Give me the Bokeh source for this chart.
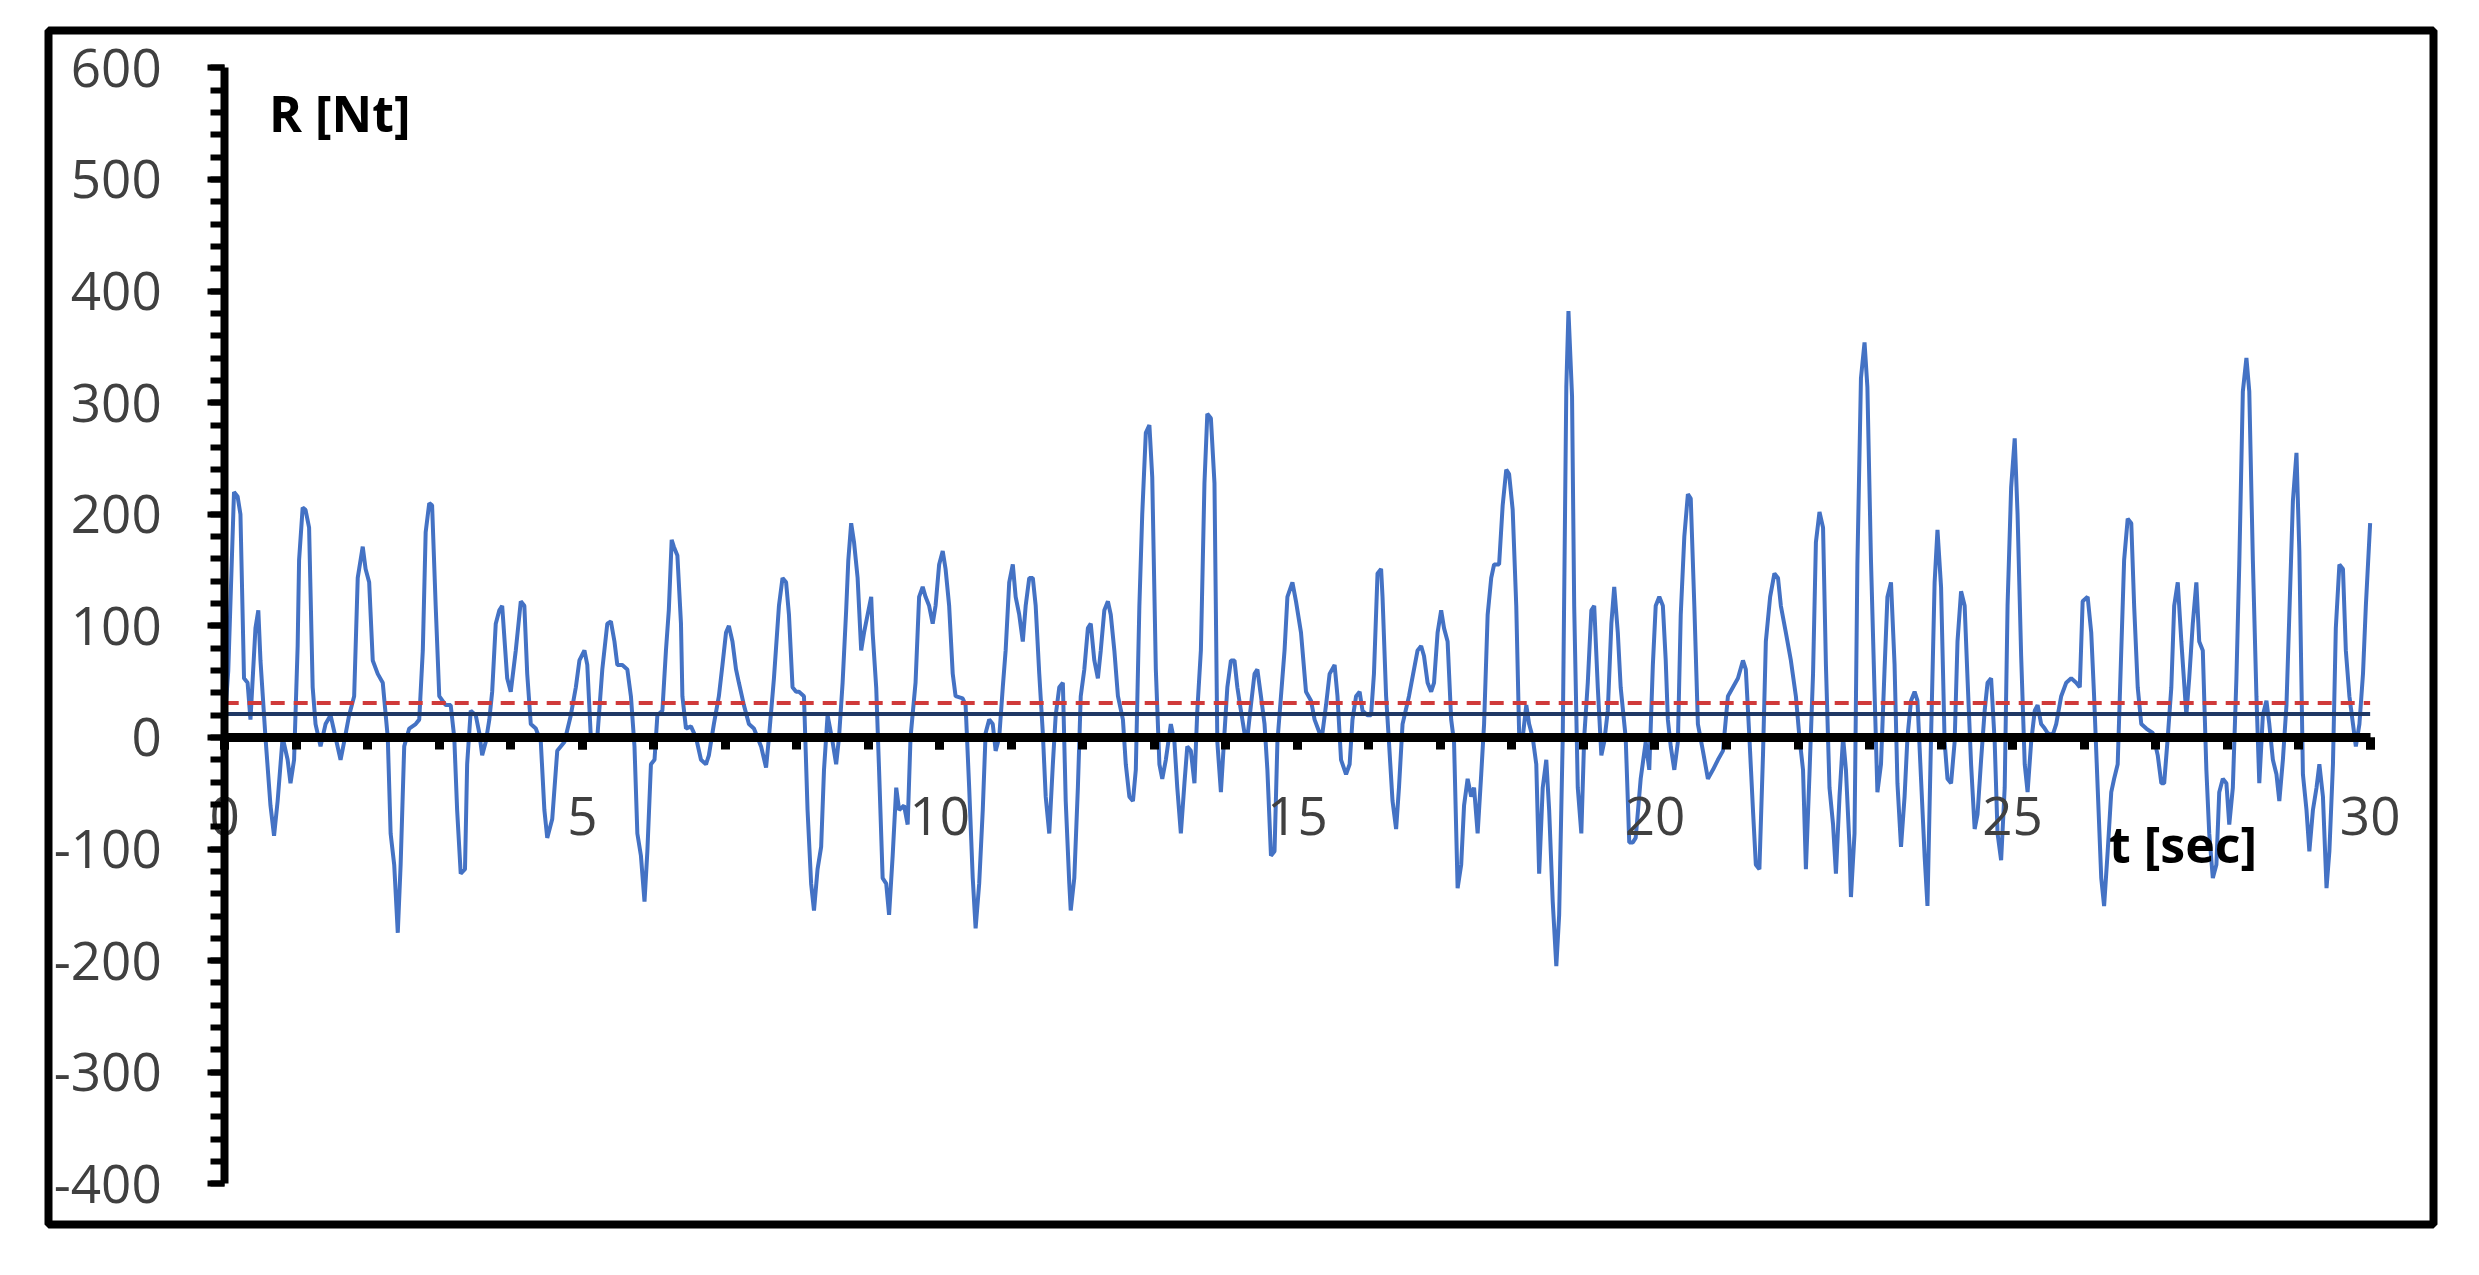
from bokeh.plotting import figure
from bokeh.models import Range1d, SingleIntervalTicker, Label, ColumnDataSource, PrintfTickFormatter
from bokeh.embed import file_html
from bokeh.resources import INLINE

# ---- data ----
t_sec = [
    0.00, 0.05, 0.13, 0.18, 0.22, 0.27, 0.32, 0.36, 0.43, 0.47, 0.50, 0.57, 0.64, 0.69, 0.74, 0.81, 0.88, 0.92, 0.97,
    1.02, 1.04, 1.09, 1.13, 1.18, 1.23, 1.27, 1.34, 1.41, 1.48, 1.55, 1.62, 1.67, 1.74, 1.81, 1.86, 1.93, 1.97,
    2.02, 2.07, 2.14, 2.21, 2.28, 2.32, 2.37, 2.42, 2.46, 2.51, 2.58, 2.67, 2.72, 2.77, 2.81, 2.86, 2.90, 2.95,
    3.00, 3.09, 3.16, 3.21, 3.25, 3.30, 3.36, 3.39, 3.44, 3.51, 3.56, 3.60, 3.65, 3.70, 3.74, 3.79, 3.84, 3.88, 3.95,
    4.00, 4.07, 4.14, 4.19, 4.23, 4.28, 4.35, 4.42, 4.47, 4.51, 4.58, 4.65, 4.75, 4.84, 4.91,
    4.96, 5.03, 5.07, 5.12, 5.21, 5.28, 5.35, 5.40, 5.45, 5.49, 5.56, 5.63, 5.68, 5.73, 5.77, 5.82, 5.87, 5.91, 5.96,
    6.01, 6.05, 6.12, 6.17, 6.21, 6.25, 6.28, 6.33, 6.38, 6.40, 6.45, 6.52, 6.59, 6.66, 6.73, 6.77, 6.84, 6.91, 6.96,
    7.01, 7.05, 7.10, 7.15, 7.19, 7.26, 7.33, 7.40, 7.50, 7.57, 7.61, 7.68, 7.75, 7.80, 7.85, 7.89, 7.94, 7.99,
    8.03, 8.10, 8.15, 8.20, 8.24, 8.29, 8.34, 8.38, 8.43, 8.50, 8.55, 8.59, 8.64, 8.69, 8.72, 8.76, 8.80, 8.85, 8.90, 8.94, 8.99,
    9.04, 9.06, 9.11, 9.15, 9.20, 9.25, 9.29, 9.34, 9.39, 9.43, 9.50, 9.55, 9.59, 9.66, 9.71, 9.76, 9.80,
    9.85, 9.90, 9.94, 9.99, 10.04, 10.08, 10.13, 10.18, 10.22, 10.32, 10.36, 10.41, 10.46, 10.50, 10.55, 10.60, 10.64,
    10.69, 10.74, 10.78, 10.83, 10.88, 10.92, 10.97, 11.02, 11.06, 11.11, 11.16, 11.20, 11.25, 11.30, 11.34, 11.39,
    11.44, 11.48, 11.53, 11.58, 11.62, 11.67, 11.72, 11.76, 11.81, 11.83, 11.88, 11.93, 11.97, 12.02, 12.07, 12.11,
    12.16, 12.21, 12.25, 12.30, 12.35, 12.39, 12.44, 12.49, 12.56, 12.60, 12.65, 12.70, 12.74, 12.79, 12.83, 12.88,
    12.93, 12.97, 13.02, 13.07, 13.11, 13.16, 13.23, 13.28, 13.32, 13.37, 13.42, 13.46, 13.51, 13.56, 13.60, 13.65,
    13.70, 13.74, 13.79, 13.84, 13.88, 13.93, 13.98, 14.02, 14.07, 14.12, 14.16, 14.21, 14.26, 14.30, 14.35, 14.40,
    14.44, 14.49, 14.54, 14.58, 14.63, 14.68, 14.72, 14.77, 14.82, 14.86, 14.93, 14.98, 15.05,
    15.12, 15.19, 15.24, 15.31, 15.35, 15.40, 15.45, 15.52, 15.56, 15.61, 15.68, 15.73, 15.77, 15.82, 15.87, 15.91,
    15.98, 16.03, 16.07, 16.12, 16.17, 16.19, 16.24, 16.28, 16.33, 16.38, 16.42, 16.47, 16.56, 16.63, 16.68, 16.73,
    16.77, 16.82, 16.87, 16.91, 16.96, 17.01, 17.05, 17.10, 17.15, 17.19, 17.24, 17.29, 17.33, 17.38, 17.43, 17.47,
    17.52, 17.57, 17.61, 17.66, 17.71, 17.75, 17.82, 17.87, 17.92, 17.96, 18.01, 18.06, 18.10, 18.15, 18.20, 18.24,
    18.29, 18.34, 18.38, 18.43, 18.48, 18.52, 18.57, 18.62, 18.66, 18.71, 18.76, 18.79, 18.84, 18.87, 18.92, 18.97,
    19.01, 19.06, 19.11, 19.15, 19.20, 19.25, 19.29, 19.34, 19.39, 19.43, 19.48, 19.52, 19.59, 19.64, 19.69, 19.73, 19.80,
    19.87, 19.92, 19.97, 20.01, 20.06, 20.11, 20.15, 20.18, 20.22, 20.27, 20.32, 20.36, 20.41, 20.46, 20.50, 20.55,
    20.60, 20.67, 20.74, 20.81, 20.88, 20.95, 21.02, 21.09, 21.16, 21.23, 21.27, 21.32, 21.37, 21.41, 21.46, 21.51,
    21.55, 21.61, 21.67, 21.72, 21.76, 21.83, 21.90, 21.97, 22.02, 22.07, 22.11, 22.16, 22.21, 22.25, 22.30, 22.35,
    22.39, 22.44, 22.49, 22.53, 22.58, 22.63, 22.67, 22.72, 22.74, 22.79, 22.83, 22.88, 22.93, 22.97, 23.02, 23.07,
    23.11, 23.16, 23.21, 23.25, 23.30, 23.35, 23.39, 23.44, 23.49, 23.53, 23.58, 23.63, 23.67, 23.72, 23.77, 23.81,
    23.86, 23.91, 23.95, 24.00, 24.05, 24.09, 24.14, 24.19, 24.23, 24.28, 24.33, 24.37, 24.42, 24.47, 24.51, 24.56,
    24.61, 24.65, 24.70, 24.75, 24.79, 24.84, 24.89, 24.93, 24.98, 25.03,
    25.07, 25.12, 25.17, 25.21, 25.26, 25.31, 25.35, 25.40, 25.45, 25.49, 25.56, 25.61, 25.68, 25.75, 25.82, 25.89,
    25.94, 25.98, 26.05, 26.10, 26.14, 26.19, 26.24, 26.28, 26.33, 26.38, 26.42, 26.47, 26.52, 26.56, 26.61, 26.66,
    26.70, 26.75, 26.80, 26.87, 26.96, 27.03, 27.08, 27.12, 27.17, 27.22, 27.26, 27.31, 27.36, 27.43, 27.47, 27.52,
    27.57, 27.61, 27.66, 27.71, 27.75, 27.80, 27.85, 27.89, 27.94, 27.99, 28.03, 28.08, 28.13, 28.17, 28.22, 28.27,
    28.31, 28.36, 28.41, 28.45, 28.50, 28.55, 28.59, 28.64, 28.69, 28.73, 28.78, 28.83, 28.87, 28.92, 28.97, 29.01,
    29.06, 29.11, 29.15, 29.20, 29.25, 29.29, 29.34, 29.39, 29.43, 29.48, 29.52, 29.57, 29.62, 29.66, 29.71, 29.76,
    29.80, 29.85, 29.90, 29.94, 30.00,
]
r_nt = [
    15, 60, 220, 216, 200, 53, 49, 16, 98, 114, 69, 0, -61, -88, -57, 0, -20, -41, -20,
    82, 159, 206, 204, 188, 45, 12, -8, 12, 20, 0, -20, -4, 20, 37, 143, 171, 151,
    139, 69, 57, 49, 0, -86, -114, -175, -114, -8, 8, 12, 16, 78, 184, 210, 208, 118,
    37, 29, 29, 0, -65, -122, -118, -24, 24, 20, 4, -16, -4, 16, 41, 102, 114, 118, 53,
    41, 78, 122, 118, 57, 12, 8, -4, -65, -90, -73, -12, -4, 20, 45,
    69, 78, 65, 0, 0, 61, 102, 104, 86, 65, 65, 61, 37, -8, -86, -106, -147, -102, -24,
    -20, 20, 24, 78, 114, 177, 171, 163, 102, 37, 8, 10, 0, -20, -24, -16, 12, 37, 65,
    94, 100, 86, 61, 49, 29, 12, 8, -8, -27, 0, 53, 118, 143, 139, 110, 45, 41,
    41, 37, -65, -131, -155, -118, -98, -29, 20, -4, -24, 0, 49, 114, 159, 192, 175, 143, 78, 94, 110,
    126, 94, 45, -29, -126, -131, -159, -106, -45, -65, -61, -78, 0, 49, 126, 135, 126,
    118, 102, 118, 155, 167, 151, 118, 57, 37, 35, 29, -45, -126, -171, -131, -65, 4,
    16, 12, -12, 0, 45, 78, 139, 155, 126, 110, 86, 118, 143, 143, 118, 57,
    4, -53, -86, -24, 20, 45, 49, -57, -131, -155, -126, -45, 37, 61, 98, 102,
    69, 53, 78, 114, 122, 110, 78, 37, 16, -24, -53, -57, -29, 118, 200, 273,
    280, 233, 61, -24, -37, -20, 12, -4, -45, -86, -41, -8, -12, -41, 24, 78,
    228, 290, 286, 228, -4, -49, 4, 45, 69, 69, 45, 24, 4, 0, 29, 57,
    61, 37, 12, -29, -106, -102, -4, 37, 78, 126, 139, 122, 94,
    41, 33, 16, 4, 4, 29, 57, 65, 37, -20, -33, -24, 16, 37, 41, 24,
    20, 20, 57, 147, 151, 126, 37, -4, -57, -82, -45, 12, 37, 61, 78, 82,
    73, 49, 41, 49, 94, 114, 98, 86, 16, -4, -135, -114, -61, -37, -53, -45,
    -86, -33, 12, 110, 143, 155, 155, 208, 240, 236, 204, 118, 4, 0, 29, 12,
    0, -24, -122, -45, -20, -65, -147, -205, -159, 0, 314, 382, 306, 118, -45, -86,
    0, 49, 114, 118, 45, -16, -4, 24, 102, 135, 94, 45, 0, -94, -94, -90, -37,
    -4, -29, 65, 118, 126, 118, 69, 16, -8, -29, -4, 110, 180, 218, 214, 118,
    12, -12, -37, -29, -20, -12, 37, 45, 53, 69, 61, 0, -65, -114, -118, -16,
    86, 126, 147, 143, 118, 94, 69, 37, 0, -29, -118, -33, 57, 175, 202, 188,
    65, -45, -78, -122, -53, 0, -29, -98, -143, -86, 155, 322, 354, 314, 159, 41,
    -49, -24, 61, 126, 139, 65, -41, -98, -53, 0, 33, 41, 33, -37, -106, -151,
    0, 139, 186, 135, -4, -37, -41, -4, 86, 131, 118, 53, -24, -82, -69, -20,
    24, 49, 53, -4, -86, -110, -45, 118, 224, 268,
    200, 73, -24, -49, -4, 24, 29, 12, 8, 4, 2, 12, 37, 49, 53, 49,
    45, 122, 126, 94, 37, -45, -126, -151, -102, -49, -37, -24, 78, 159, 196, 192,
    118, 45, 12, 8, 4, -16, -41, -41, 0, 45, 118, 139, 86, 20, 53, 102,
    139, 86, 78, -29, -86, -126, -114, -49, -37, -41, -78, -45, 53, 155, 310, 340,
    310, 159, 37, -41, 20, 33, 12, -20, -33, -57, -20, 29, 110, 212, 255, 167,
    -33, -65, -102, -65, -45, -24, -53, -135, -102, -24, 98, 155, 151, 78, 37, 12,
    -8, 12, 57, 118, 192,
]
mean_red = 31       # red dashed level
mean_navy = 21      # dark navy level
x_bounds = (0, 30)
y_bounds = (-400, 600)

TICK_FONT = "Open Sans"

p = figure(width=2453, height=1244, output_backend="svg", toolbar_location=None,
           x_range=Range1d(-2.464, 30.886), y_range=Range1d(-436.4, 633.5),
           x_axis_location="below", y_axis_location="left",
           min_border_left=48, min_border_top=30, min_border_right=20, min_border_bottom=20)
p.background_fill_color = "white"
p.border_fill_color = "white"
p.outline_line_color = "black"
p.outline_line_width = 8
p.xgrid.visible = False
p.ygrid.visible = False

src = ColumnDataSource(data=dict(t=t_sec, r=r_nt))
p.line("t", "r", source=src, line_color="#4472C4", line_width=4)
p.line(list(x_bounds), [mean_red, mean_red], line_color="#D03A3A", line_width=4, line_dash="14 9")
p.line(list(x_bounds), [mean_navy, mean_navy], line_color="#1F3864", line_width=4)

# x axis crossing at R = 0
xa = p.xaxis[0]
xa.fixed_location = 0
xa.bounds = x_bounds
xa.ticker = SingleIntervalTicker(interval=5, num_minor_ticks=5)
xa.formatter = PrintfTickFormatter(format="%d")
xa.axis_line_width = 9
xa.axis_line_color = "black"
xa.major_tick_in = 0
xa.major_tick_out = 12
xa.minor_tick_in = 0
xa.minor_tick_out = 12
xa.major_tick_line_width = 9
xa.minor_tick_line_width = 9
xa.major_label_standoff = 48
xa.major_label_text_font = TICK_FONT
xa.major_label_text_font_size = "53px"
xa.major_label_text_color = "#404040"

# y axis crossing at t = 0
ya = p.yaxis[0]
ya.fixed_location = 0
ya.bounds = y_bounds
ya.ticker = SingleIntervalTicker(interval=100, num_minor_ticks=5)
ya.formatter = PrintfTickFormatter(format="%d")
ya.axis_line_width = 8
ya.axis_line_color = "black"
ya.major_tick_in = 0
ya.major_tick_out = 17
ya.minor_tick_in = 0
ya.minor_tick_out = 14
ya.major_tick_line_width = 6
ya.minor_tick_line_width = 6
ya.major_label_standoff = 46
ya.major_label_text_font = TICK_FONT
ya.major_label_text_font_size = "53px"
ya.major_label_text_color = "#404040"

p.add_layout(Label(x=0.62, y=560, text="R [Nt]", text_font="Open Sans", text_font_style="bold",
                   text_font_size="50px", text_color="black", text_align="left", text_baseline="middle"))
p.add_layout(Label(x=26.35, y=-95, text="t [sec]", text_font="Open Sans", text_font_style="bold",
                   text_font_size="50px", text_color="black", text_align="left", text_baseline="middle"))

open("out.html", "w").write(file_html(p, INLINE))
